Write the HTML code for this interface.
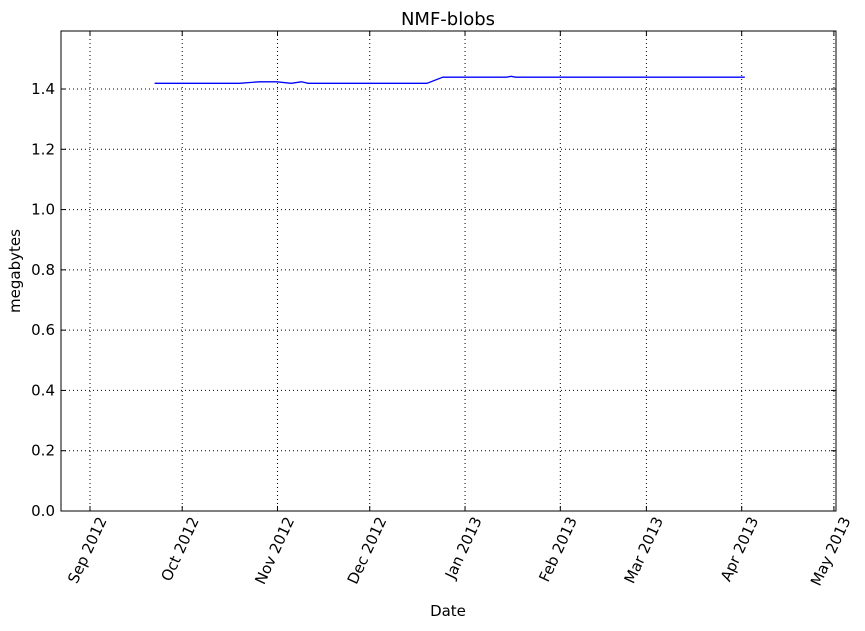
<!DOCTYPE html>
<html><head><meta charset="utf-8"><style>
body{margin:0;background:#fff;}
svg text{font-family:"DejaVu Sans","Liberation Sans",sans-serif;fill:#000;}
</style></head><body>
<svg id="chart" width="865" height="626" xmlns="http://www.w3.org/2000/svg">
<rect width="865" height="626" fill="#fff"/>
<g id="grid"></g>
<g id="ticks"></g>
<path id="series" fill="none" stroke="#0000ff" stroke-width="1.3"/>
<rect x="61" y="31" width="775" height="480" fill="none" stroke="#000" stroke-width="1"/>
<text x="448" y="25" text-anchor="middle" font-size="18">NMF-blobs</text>
<text x="448" y="616" text-anchor="middle" font-size="15">Date</text>
<text transform="translate(20,271) rotate(-90)" text-anchor="middle" font-size="15">megabytes</text>
</svg>
<script>
// day offsets from 2012-09-01
const seriesDays = [21, 48.6, 55, 60.8, 65.4, 68.8, 71, 109.6, 114.8, 135.5, 137, 138.5, 213];
const seriesValues = [1.419, 1.419, 1.424, 1.424, 1.419, 1.424, 1.419, 1.419, 1.439, 1.439, 1.442, 1.439, 1.439];
const monthDays = [0, 30, 61, 91, 122, 153, 181, 212, 242];
const monthLabels = ["Sep 2012","Oct 2012","Nov 2012","Dec 2012","Jan 2013","Feb 2013","Mar 2013","Apr 2013","May 2013"];
const yTicks = [0,0.2,0.4,0.6,0.8,1.0,1.2,1.4];
const yTickLabels = ["0.0","0.2","0.4","0.6","0.8","1.0","1.2","1.4"];

const L=61,R=836,T=31,B=511;
const x = d => 90 + d*3.074;
const y = v => B - v*(B-89)/1.4;
const NS="http://www.w3.org/2000/svg";
const grid=document.getElementById('grid'), ticks=document.getElementById('ticks');
function mk(tag, attrs, parent){const e=document.createElementNS(NS,tag);for(const k in attrs)e.setAttribute(k,attrs[k]);parent.appendChild(e);return e;}
monthDays.forEach((d,i)=>{
  const px=x(d);
  const g=mk('line',{x1:px,x2:px,y1:T,y2:B,stroke:'#000','stroke-dasharray':'1,3','stroke-width':1},grid);
  
  
  const t1=mk('line',{x1:px,x2:px,y1:B,y2:B-5,stroke:'#000'},ticks);
  
  
  const t2=mk('line',{x1:px,x2:px,y1:T,y2:T+5,stroke:'#000'},ticks);
  
  
  const tx=mk('text',{transform:`translate(${px+17},${B+9}) rotate(-65)`,'text-anchor':'end','font-size':15},ticks);
  tx.textContent=monthLabels[i];
  
  
});
yTicks.forEach((v,i)=>{
  const py=y(v);
  if(v>0){
    const g=mk('line',{x1:L,x2:R,y1:py,y2:py,stroke:'#000','stroke-dasharray':'1,3','stroke-width':1},grid);
    
    
  }
  const t1=mk('line',{x1:L,x2:L+5,y1:py,y2:py,stroke:'#000'},ticks);
  
  
  const t2=mk('line',{x1:R,x2:R-5,y1:py,y2:py,stroke:'#000'},ticks);
  
  
  const tx=mk('text',{x:L-6,y:py+5,'text-anchor':'end','font-size':15},ticks);
  tx.textContent=yTickLabels[i];
  
  
});
document.getElementById('series').setAttribute('d',seriesDays.map((d,i)=>(i?'L':'M')+x(d).toFixed(1)+','+y(seriesValues[i]).toFixed(1)).join(' '));
</script>
</body></html>
